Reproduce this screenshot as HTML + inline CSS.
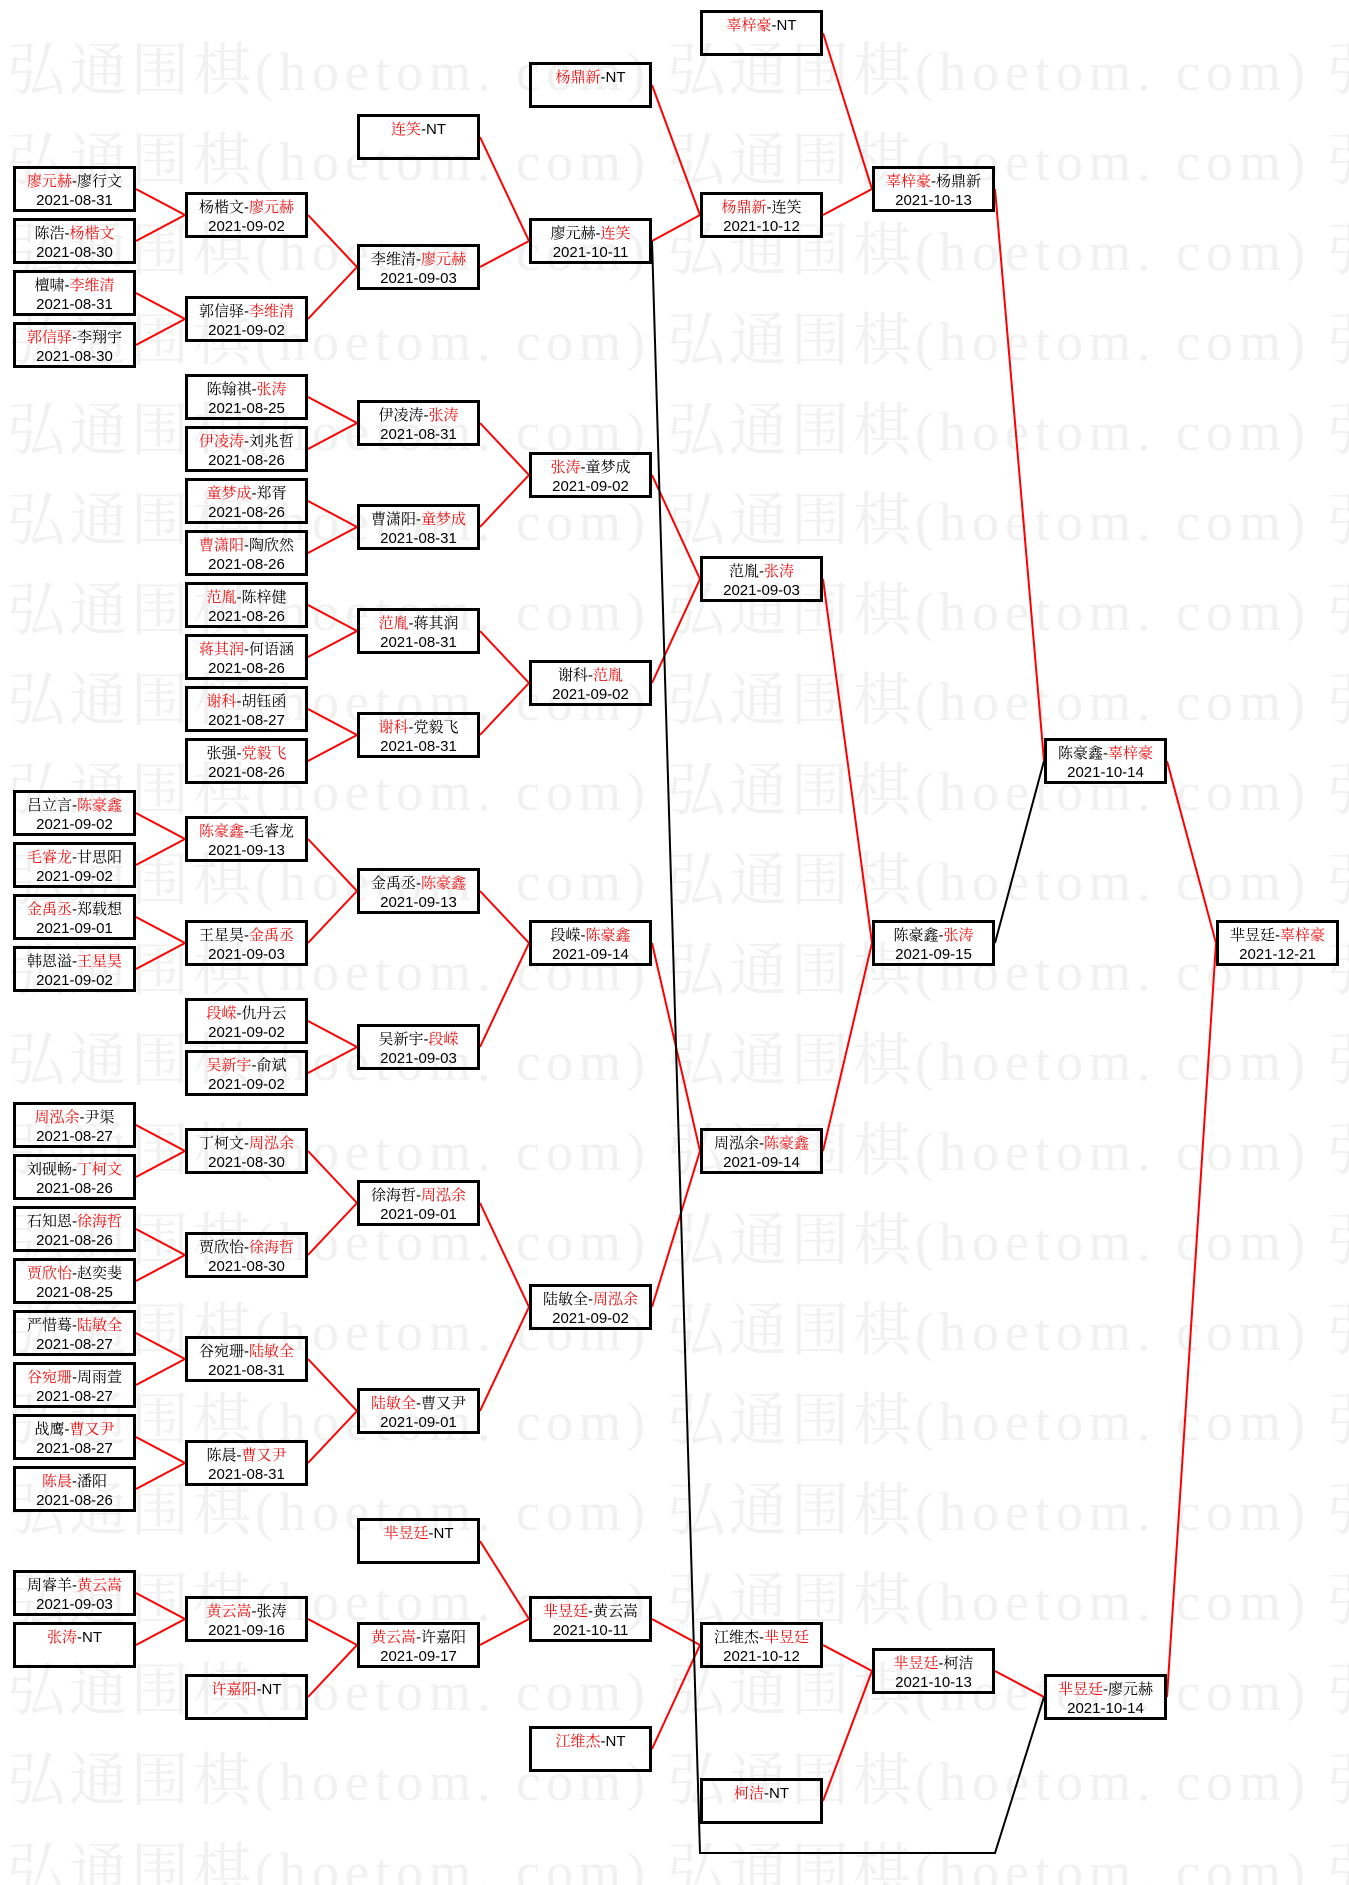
<!DOCTYPE html>
<html><head><meta charset="utf-8">
<style>
html,body{margin:0;padding:0;background:#fff;}
svg{display:block;}
.wm{fill:#f1f1f1;}
.wm .c{font-family:"Liberation Serif","Noto Serif CJK SC",serif;font-size:58px;letter-spacing:4px;}
.wm .l{font-family:"Liberation Serif","Noto Serif CJK SC",serif;font-size:54px;letter-spacing:6px;}
.bx rect{fill:none;stroke:#000;stroke-width:3;}
.bx text{font-family:"Liberation Sans","Noto Serif CJK SC",serif;font-size:15px;text-anchor:middle;fill:#000;}
.bx .r{fill:#ee1111;}
</style></head><body>
<svg width="1349" height="1885" viewBox="0 0 1349 1885" xmlns="http://www.w3.org/2000/svg">
<rect width="1349" height="1885" fill="#fff"/>
<g class="wm">
<text y="90"><tspan x="7" class="c">弘通围棋</tspan><tspan class="l">(hoetom. com)</tspan><tspan x="667" class="c">弘通围棋</tspan><tspan class="l">(hoetom. com)</tspan><tspan x="1327" class="c">弘</tspan></text>
<text y="180"><tspan x="7" class="c">弘通围棋</tspan><tspan class="l">(hoetom. com)</tspan><tspan x="667" class="c">弘通围棋</tspan><tspan class="l">(hoetom. com)</tspan><tspan x="1327" class="c">弘</tspan></text>
<text y="270"><tspan x="7" class="c">弘通围棋</tspan><tspan class="l">(hoetom. com)</tspan><tspan x="667" class="c">弘通围棋</tspan><tspan class="l">(hoetom. com)</tspan><tspan x="1327" class="c">弘</tspan></text>
<text y="360"><tspan x="7" class="c">弘通围棋</tspan><tspan class="l">(hoetom. com)</tspan><tspan x="667" class="c">弘通围棋</tspan><tspan class="l">(hoetom. com)</tspan><tspan x="1327" class="c">弘</tspan></text>
<text y="450"><tspan x="7" class="c">弘通围棋</tspan><tspan class="l">(hoetom. com)</tspan><tspan x="667" class="c">弘通围棋</tspan><tspan class="l">(hoetom. com)</tspan><tspan x="1327" class="c">弘</tspan></text>
<text y="540"><tspan x="7" class="c">弘通围棋</tspan><tspan class="l">(hoetom. com)</tspan><tspan x="667" class="c">弘通围棋</tspan><tspan class="l">(hoetom. com)</tspan><tspan x="1327" class="c">弘</tspan></text>
<text y="630"><tspan x="7" class="c">弘通围棋</tspan><tspan class="l">(hoetom. com)</tspan><tspan x="667" class="c">弘通围棋</tspan><tspan class="l">(hoetom. com)</tspan><tspan x="1327" class="c">弘</tspan></text>
<text y="720"><tspan x="7" class="c">弘通围棋</tspan><tspan class="l">(hoetom. com)</tspan><tspan x="667" class="c">弘通围棋</tspan><tspan class="l">(hoetom. com)</tspan><tspan x="1327" class="c">弘</tspan></text>
<text y="810"><tspan x="7" class="c">弘通围棋</tspan><tspan class="l">(hoetom. com)</tspan><tspan x="667" class="c">弘通围棋</tspan><tspan class="l">(hoetom. com)</tspan><tspan x="1327" class="c">弘</tspan></text>
<text y="900"><tspan x="7" class="c">弘通围棋</tspan><tspan class="l">(hoetom. com)</tspan><tspan x="667" class="c">弘通围棋</tspan><tspan class="l">(hoetom. com)</tspan><tspan x="1327" class="c">弘</tspan></text>
<text y="990"><tspan x="7" class="c">弘通围棋</tspan><tspan class="l">(hoetom. com)</tspan><tspan x="667" class="c">弘通围棋</tspan><tspan class="l">(hoetom. com)</tspan><tspan x="1327" class="c">弘</tspan></text>
<text y="1080"><tspan x="7" class="c">弘通围棋</tspan><tspan class="l">(hoetom. com)</tspan><tspan x="667" class="c">弘通围棋</tspan><tspan class="l">(hoetom. com)</tspan><tspan x="1327" class="c">弘</tspan></text>
<text y="1170"><tspan x="7" class="c">弘通围棋</tspan><tspan class="l">(hoetom. com)</tspan><tspan x="667" class="c">弘通围棋</tspan><tspan class="l">(hoetom. com)</tspan><tspan x="1327" class="c">弘</tspan></text>
<text y="1260"><tspan x="7" class="c">弘通围棋</tspan><tspan class="l">(hoetom. com)</tspan><tspan x="667" class="c">弘通围棋</tspan><tspan class="l">(hoetom. com)</tspan><tspan x="1327" class="c">弘</tspan></text>
<text y="1350"><tspan x="7" class="c">弘通围棋</tspan><tspan class="l">(hoetom. com)</tspan><tspan x="667" class="c">弘通围棋</tspan><tspan class="l">(hoetom. com)</tspan><tspan x="1327" class="c">弘</tspan></text>
<text y="1440"><tspan x="7" class="c">弘通围棋</tspan><tspan class="l">(hoetom. com)</tspan><tspan x="667" class="c">弘通围棋</tspan><tspan class="l">(hoetom. com)</tspan><tspan x="1327" class="c">弘</tspan></text>
<text y="1530"><tspan x="7" class="c">弘通围棋</tspan><tspan class="l">(hoetom. com)</tspan><tspan x="667" class="c">弘通围棋</tspan><tspan class="l">(hoetom. com)</tspan><tspan x="1327" class="c">弘</tspan></text>
<text y="1620"><tspan x="7" class="c">弘通围棋</tspan><tspan class="l">(hoetom. com)</tspan><tspan x="667" class="c">弘通围棋</tspan><tspan class="l">(hoetom. com)</tspan><tspan x="1327" class="c">弘</tspan></text>
<text y="1710"><tspan x="7" class="c">弘通围棋</tspan><tspan class="l">(hoetom. com)</tspan><tspan x="667" class="c">弘通围棋</tspan><tspan class="l">(hoetom. com)</tspan><tspan x="1327" class="c">弘</tspan></text>
<text y="1800"><tspan x="7" class="c">弘通围棋</tspan><tspan class="l">(hoetom. com)</tspan><tspan x="667" class="c">弘通围棋</tspan><tspan class="l">(hoetom. com)</tspan><tspan x="1327" class="c">弘</tspan></text>
<text y="1890"><tspan x="7" class="c">弘通围棋</tspan><tspan class="l">(hoetom. com)</tspan><tspan x="667" class="c">弘通围棋</tspan><tspan class="l">(hoetom. com)</tspan><tspan x="1327" class="c">弘</tspan></text>
</g>

<path fill="none" stroke="#f00" stroke-width="2" d="
M136,189L185,215 M136,241L185,215 M136,293L185,319 M136,345L185,319
M136,813L185,839 M136,865L185,839 M136,917L185,943 M136,969L185,943
M136,1125L185,1151 M136,1177L185,1151 M136,1229L185,1255 M136,1281L185,1255
M136,1333L185,1359 M136,1385L185,1359 M136,1437L185,1463 M136,1489L185,1463
M136,1593L185,1619 M136,1645L185,1619
M308,215L357,267 M308,319L357,267 M308,397L357,423 M308,449L357,423
M308,501L357,527 M308,553L357,527 M308,605L357,631 M308,657L357,631
M308,709L357,735 M308,761L357,735 M308,839L357,891 M308,943L357,891
M308,1021L357,1047 M308,1073L357,1047 M308,1151L357,1203 M308,1255L357,1203
M308,1359L357,1411 M308,1463L357,1411 M308,1619L357,1645 M308,1697L357,1645
M480,137L529,241 M480,267L529,241 M480,423L529,475 M480,527L529,475
M480,631L529,683 M480,735L529,683 M480,891L529,943 M480,1047L529,943
M480,1203L529,1307 M480,1411L529,1307 M480,1541L529,1619 M480,1645L529,1619
M652,85L700,215 M652,241L700,215 M652,475L700,579 M652,683L700,579
M652,943L700,1151 M652,1307L700,1151 M652,1619L700,1645 M652,1749L700,1645
M823,33L872,189 M823,215L872,189 M823,579L872,943 M823,1151L872,943
M823,1645L872,1671 M823,1801L872,1671
M995,189L1044,761 M995,1671L1044,1697
M1167,761L1216,943 M1167,1697L1216,943"/>
<path fill="none" stroke="#000" stroke-width="2" d="M995,943L1044,761 M652,241L700,1853L995,1853L1044,1697"/>

<g class="bx">
<!-- column 1 -->
<g transform="translate(13,166)"><rect x="1.5" y="1.5" width="120" height="43"/><text x="61.5" y="20"><tspan class="r">廖元赫</tspan>-廖行文</text><text x="61.5" y="39">2021-08-31</text></g>
<g transform="translate(13,218)"><rect x="1.5" y="1.5" width="120" height="43"/><text x="61.5" y="20">陈浩-<tspan class="r">杨楷文</tspan></text><text x="61.5" y="39">2021-08-30</text></g>
<g transform="translate(13,270)"><rect x="1.5" y="1.5" width="120" height="43"/><text x="61.5" y="20">檀啸-<tspan class="r">李维清</tspan></text><text x="61.5" y="39">2021-08-31</text></g>
<g transform="translate(13,322)"><rect x="1.5" y="1.5" width="120" height="43"/><text x="61.5" y="20"><tspan class="r">郭信驿</tspan>-李翔宇</text><text x="61.5" y="39">2021-08-30</text></g>
<g transform="translate(13,790)"><rect x="1.5" y="1.5" width="120" height="43"/><text x="61.5" y="20">吕立言-<tspan class="r">陈豪鑫</tspan></text><text x="61.5" y="39">2021-09-02</text></g>
<g transform="translate(13,842)"><rect x="1.5" y="1.5" width="120" height="43"/><text x="61.5" y="20"><tspan class="r">毛睿龙</tspan>-甘思阳</text><text x="61.5" y="39">2021-09-02</text></g>
<g transform="translate(13,894)"><rect x="1.5" y="1.5" width="120" height="43"/><text x="61.5" y="20"><tspan class="r">金禹丞</tspan>-郑载想</text><text x="61.5" y="39">2021-09-01</text></g>
<g transform="translate(13,946)"><rect x="1.5" y="1.5" width="120" height="43"/><text x="61.5" y="20">韩恩溢-<tspan class="r">王星昊</tspan></text><text x="61.5" y="39">2021-09-02</text></g>
<g transform="translate(13,1102)"><rect x="1.5" y="1.5" width="120" height="43"/><text x="61.5" y="20"><tspan class="r">周泓余</tspan>-尹渠</text><text x="61.5" y="39">2021-08-27</text></g>
<g transform="translate(13,1154)"><rect x="1.5" y="1.5" width="120" height="43"/><text x="61.5" y="20">刘砚畅-<tspan class="r">丁柯文</tspan></text><text x="61.5" y="39">2021-08-26</text></g>
<g transform="translate(13,1206)"><rect x="1.5" y="1.5" width="120" height="43"/><text x="61.5" y="20">石知恩-<tspan class="r">徐海哲</tspan></text><text x="61.5" y="39">2021-08-26</text></g>
<g transform="translate(13,1258)"><rect x="1.5" y="1.5" width="120" height="43"/><text x="61.5" y="20"><tspan class="r">贾欣怡</tspan>-赵奕斐</text><text x="61.5" y="39">2021-08-25</text></g>
<g transform="translate(13,1310)"><rect x="1.5" y="1.5" width="120" height="43"/><text x="61.5" y="20">严惜蓦-<tspan class="r">陆敏全</tspan></text><text x="61.5" y="39">2021-08-27</text></g>
<g transform="translate(13,1362)"><rect x="1.5" y="1.5" width="120" height="43"/><text x="61.5" y="20"><tspan class="r">谷宛珊</tspan>-周雨萱</text><text x="61.5" y="39">2021-08-27</text></g>
<g transform="translate(13,1414)"><rect x="1.5" y="1.5" width="120" height="43"/><text x="61.5" y="20">战鹰-<tspan class="r">曹又尹</tspan></text><text x="61.5" y="39">2021-08-27</text></g>
<g transform="translate(13,1466)"><rect x="1.5" y="1.5" width="120" height="43"/><text x="61.5" y="20"><tspan class="r">陈晨</tspan>-潘阳</text><text x="61.5" y="39">2021-08-26</text></g>
<g transform="translate(13,1570)"><rect x="1.5" y="1.5" width="120" height="43"/><text x="61.5" y="20">周睿羊-<tspan class="r">黄云嵩</tspan></text><text x="61.5" y="39">2021-09-03</text></g>
<g transform="translate(13,1622)"><rect x="1.5" y="1.5" width="120" height="43"/><text x="61.5" y="20"><tspan class="r">张涛</tspan>-NT</text></g>

<!-- column 2 -->
<g transform="translate(185,192)"><rect x="1.5" y="1.5" width="120" height="43"/><text x="61.5" y="20">杨楷文-<tspan class="r">廖元赫</tspan></text><text x="61.5" y="39">2021-09-02</text></g>
<g transform="translate(185,296)"><rect x="1.5" y="1.5" width="120" height="43"/><text x="61.5" y="20">郭信驿-<tspan class="r">李维清</tspan></text><text x="61.5" y="39">2021-09-02</text></g>
<g transform="translate(185,374)"><rect x="1.5" y="1.5" width="120" height="43"/><text x="61.5" y="20">陈翰祺-<tspan class="r">张涛</tspan></text><text x="61.5" y="39">2021-08-25</text></g>
<g transform="translate(185,426)"><rect x="1.5" y="1.5" width="120" height="43"/><text x="61.5" y="20"><tspan class="r">伊凌涛</tspan>-刘兆哲</text><text x="61.5" y="39">2021-08-26</text></g>
<g transform="translate(185,478)"><rect x="1.5" y="1.5" width="120" height="43"/><text x="61.5" y="20"><tspan class="r">童梦成</tspan>-郑胥</text><text x="61.5" y="39">2021-08-26</text></g>
<g transform="translate(185,530)"><rect x="1.5" y="1.5" width="120" height="43"/><text x="61.5" y="20"><tspan class="r">曹潇阳</tspan>-陶欣然</text><text x="61.5" y="39">2021-08-26</text></g>
<g transform="translate(185,582)"><rect x="1.5" y="1.5" width="120" height="43"/><text x="61.5" y="20"><tspan class="r">范胤</tspan>-陈梓健</text><text x="61.5" y="39">2021-08-26</text></g>
<g transform="translate(185,634)"><rect x="1.5" y="1.5" width="120" height="43"/><text x="61.5" y="20"><tspan class="r">蒋其润</tspan>-何语涵</text><text x="61.5" y="39">2021-08-26</text></g>
<g transform="translate(185,686)"><rect x="1.5" y="1.5" width="120" height="43"/><text x="61.5" y="20"><tspan class="r">谢科</tspan>-胡钰函</text><text x="61.5" y="39">2021-08-27</text></g>
<g transform="translate(185,738)"><rect x="1.5" y="1.5" width="120" height="43"/><text x="61.5" y="20">张强-<tspan class="r">党毅飞</tspan></text><text x="61.5" y="39">2021-08-26</text></g>
<g transform="translate(185,816)"><rect x="1.5" y="1.5" width="120" height="43"/><text x="61.5" y="20"><tspan class="r">陈豪鑫</tspan>-毛睿龙</text><text x="61.5" y="39">2021-09-13</text></g>
<g transform="translate(185,920)"><rect x="1.5" y="1.5" width="120" height="43"/><text x="61.5" y="20">王星昊-<tspan class="r">金禹丞</tspan></text><text x="61.5" y="39">2021-09-03</text></g>
<g transform="translate(185,998)"><rect x="1.5" y="1.5" width="120" height="43"/><text x="61.5" y="20"><tspan class="r">段嵘</tspan>-仇丹云</text><text x="61.5" y="39">2021-09-02</text></g>
<g transform="translate(185,1050)"><rect x="1.5" y="1.5" width="120" height="43"/><text x="61.5" y="20"><tspan class="r">吴新宇</tspan>-俞斌</text><text x="61.5" y="39">2021-09-02</text></g>
<g transform="translate(185,1128)"><rect x="1.5" y="1.5" width="120" height="43"/><text x="61.5" y="20">丁柯文-<tspan class="r">周泓余</tspan></text><text x="61.5" y="39">2021-08-30</text></g>
<g transform="translate(185,1232)"><rect x="1.5" y="1.5" width="120" height="43"/><text x="61.5" y="20">贾欣怡-<tspan class="r">徐海哲</tspan></text><text x="61.5" y="39">2021-08-30</text></g>
<g transform="translate(185,1336)"><rect x="1.5" y="1.5" width="120" height="43"/><text x="61.5" y="20">谷宛珊-<tspan class="r">陆敏全</tspan></text><text x="61.5" y="39">2021-08-31</text></g>
<g transform="translate(185,1440)"><rect x="1.5" y="1.5" width="120" height="43"/><text x="61.5" y="20">陈晨-<tspan class="r">曹又尹</tspan></text><text x="61.5" y="39">2021-08-31</text></g>
<g transform="translate(185,1596)"><rect x="1.5" y="1.5" width="120" height="43"/><text x="61.5" y="20"><tspan class="r">黄云嵩</tspan>-张涛</text><text x="61.5" y="39">2021-09-16</text></g>
<g transform="translate(185,1674)"><rect x="1.5" y="1.5" width="120" height="43"/><text x="61.5" y="20"><tspan class="r">许嘉阳</tspan>-NT</text></g>

<!-- column 3 -->
<g transform="translate(357,114)"><rect x="1.5" y="1.5" width="120" height="43"/><text x="61.5" y="20"><tspan class="r">连笑</tspan>-NT</text></g>
<g transform="translate(357,244)"><rect x="1.5" y="1.5" width="120" height="43"/><text x="61.5" y="20">李维清-<tspan class="r">廖元赫</tspan></text><text x="61.5" y="39">2021-09-03</text></g>
<g transform="translate(357,400)"><rect x="1.5" y="1.5" width="120" height="43"/><text x="61.5" y="20">伊凌涛-<tspan class="r">张涛</tspan></text><text x="61.5" y="39">2021-08-31</text></g>
<g transform="translate(357,504)"><rect x="1.5" y="1.5" width="120" height="43"/><text x="61.5" y="20">曹潇阳-<tspan class="r">童梦成</tspan></text><text x="61.5" y="39">2021-08-31</text></g>
<g transform="translate(357,608)"><rect x="1.5" y="1.5" width="120" height="43"/><text x="61.5" y="20"><tspan class="r">范胤</tspan>-蒋其润</text><text x="61.5" y="39">2021-08-31</text></g>
<g transform="translate(357,712)"><rect x="1.5" y="1.5" width="120" height="43"/><text x="61.5" y="20"><tspan class="r">谢科</tspan>-党毅飞</text><text x="61.5" y="39">2021-08-31</text></g>
<g transform="translate(357,868)"><rect x="1.5" y="1.5" width="120" height="43"/><text x="61.5" y="20">金禹丞-<tspan class="r">陈豪鑫</tspan></text><text x="61.5" y="39">2021-09-13</text></g>
<g transform="translate(357,1024)"><rect x="1.5" y="1.5" width="120" height="43"/><text x="61.5" y="20">吴新宇-<tspan class="r">段嵘</tspan></text><text x="61.5" y="39">2021-09-03</text></g>
<g transform="translate(357,1180)"><rect x="1.5" y="1.5" width="120" height="43"/><text x="61.5" y="20">徐海哲-<tspan class="r">周泓余</tspan></text><text x="61.5" y="39">2021-09-01</text></g>
<g transform="translate(357,1388)"><rect x="1.5" y="1.5" width="120" height="43"/><text x="61.5" y="20"><tspan class="r">陆敏全</tspan>-曹又尹</text><text x="61.5" y="39">2021-09-01</text></g>
<g transform="translate(357,1518)"><rect x="1.5" y="1.5" width="120" height="43"/><text x="61.5" y="20"><tspan class="r">芈昱廷</tspan>-NT</text></g>
<g transform="translate(357,1622)"><rect x="1.5" y="1.5" width="120" height="43"/><text x="61.5" y="20"><tspan class="r">黄云嵩</tspan>-许嘉阳</text><text x="61.5" y="39">2021-09-17</text></g>

<!-- column 4 -->
<g transform="translate(529,62)"><rect x="1.5" y="1.5" width="120" height="43"/><text x="61.5" y="20"><tspan class="r">杨鼎新</tspan>-NT</text></g>
<g transform="translate(529,218)"><rect x="1.5" y="1.5" width="120" height="43"/><text x="61.5" y="20">廖元赫-<tspan class="r">连笑</tspan></text><text x="61.5" y="39">2021-10-11</text></g>
<g transform="translate(529,452)"><rect x="1.5" y="1.5" width="120" height="43"/><text x="61.5" y="20"><tspan class="r">张涛</tspan>-童梦成</text><text x="61.5" y="39">2021-09-02</text></g>
<g transform="translate(529,660)"><rect x="1.5" y="1.5" width="120" height="43"/><text x="61.5" y="20">谢科-<tspan class="r">范胤</tspan></text><text x="61.5" y="39">2021-09-02</text></g>
<g transform="translate(529,920)"><rect x="1.5" y="1.5" width="120" height="43"/><text x="61.5" y="20">段嵘-<tspan class="r">陈豪鑫</tspan></text><text x="61.5" y="39">2021-09-14</text></g>
<g transform="translate(529,1284)"><rect x="1.5" y="1.5" width="120" height="43"/><text x="61.5" y="20">陆敏全-<tspan class="r">周泓余</tspan></text><text x="61.5" y="39">2021-09-02</text></g>
<g transform="translate(529,1596)"><rect x="1.5" y="1.5" width="120" height="43"/><text x="61.5" y="20"><tspan class="r">芈昱廷</tspan>-黄云嵩</text><text x="61.5" y="39">2021-10-11</text></g>
<g transform="translate(529,1726)"><rect x="1.5" y="1.5" width="120" height="43"/><text x="61.5" y="20"><tspan class="r">江维杰</tspan>-NT</text></g>

<!-- column 5 -->
<g transform="translate(700,10)"><rect x="1.5" y="1.5" width="120" height="43"/><text x="61.5" y="20"><tspan class="r">辜梓豪</tspan>-NT</text></g>
<g transform="translate(700,192)"><rect x="1.5" y="1.5" width="120" height="43"/><text x="61.5" y="20"><tspan class="r">杨鼎新</tspan>-连笑</text><text x="61.5" y="39">2021-10-12</text></g>
<g transform="translate(700,556)"><rect x="1.5" y="1.5" width="120" height="43"/><text x="61.5" y="20">范胤-<tspan class="r">张涛</tspan></text><text x="61.5" y="39">2021-09-03</text></g>
<g transform="translate(700,1128)"><rect x="1.5" y="1.5" width="120" height="43"/><text x="61.5" y="20">周泓余-<tspan class="r">陈豪鑫</tspan></text><text x="61.5" y="39">2021-09-14</text></g>
<g transform="translate(700,1622)"><rect x="1.5" y="1.5" width="120" height="43"/><text x="61.5" y="20">江维杰-<tspan class="r">芈昱廷</tspan></text><text x="61.5" y="39">2021-10-12</text></g>
<g transform="translate(700,1778)"><rect x="1.5" y="1.5" width="120" height="43"/><text x="61.5" y="20"><tspan class="r">柯洁</tspan>-NT</text></g>

<!-- column 6 -->
<g transform="translate(872,166)"><rect x="1.5" y="1.5" width="120" height="43"/><text x="61.5" y="20"><tspan class="r">辜梓豪</tspan>-杨鼎新</text><text x="61.5" y="39">2021-10-13</text></g>
<g transform="translate(872,920)"><rect x="1.5" y="1.5" width="120" height="43"/><text x="61.5" y="20">陈豪鑫-<tspan class="r">张涛</tspan></text><text x="61.5" y="39">2021-09-15</text></g>
<g transform="translate(872,1648)"><rect x="1.5" y="1.5" width="120" height="43"/><text x="61.5" y="20"><tspan class="r">芈昱廷</tspan>-柯洁</text><text x="61.5" y="39">2021-10-13</text></g>

<!-- column 7 -->
<g transform="translate(1044,738)"><rect x="1.5" y="1.5" width="120" height="43"/><text x="61.5" y="20">陈豪鑫-<tspan class="r">辜梓豪</tspan></text><text x="61.5" y="39">2021-10-14</text></g>
<g transform="translate(1044,1674)"><rect x="1.5" y="1.5" width="120" height="43"/><text x="61.5" y="20"><tspan class="r">芈昱廷</tspan>-廖元赫</text><text x="61.5" y="39">2021-10-14</text></g>

<!-- column 8 -->
<g transform="translate(1216,920)"><rect x="1.5" y="1.5" width="120" height="43"/><text x="61.5" y="20">芈昱廷-<tspan class="r">辜梓豪</tspan></text><text x="61.5" y="39">2021-12-21</text></g>
</g>
</svg>
</body></html>
